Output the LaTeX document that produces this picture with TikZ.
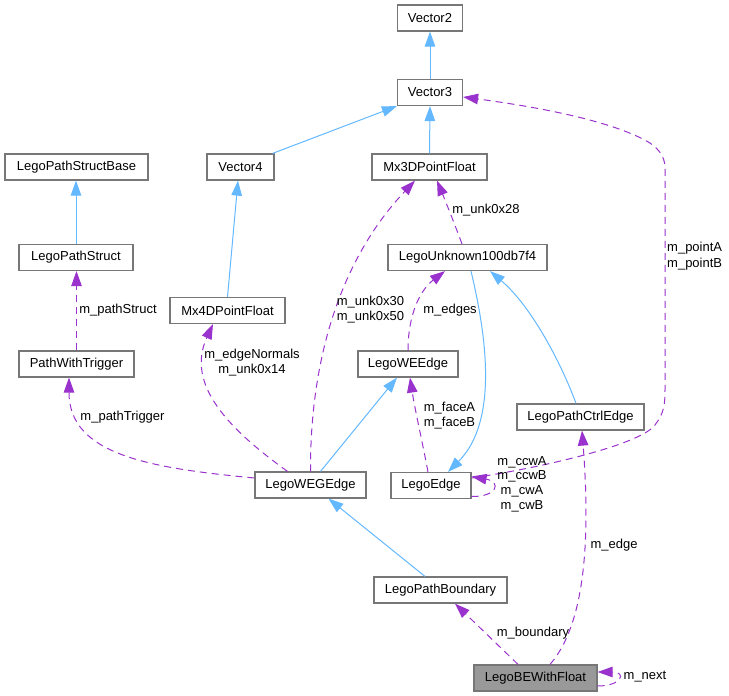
\documentclass[tikz,border=0pt]{standalone}
\usepackage{fontspec}
\setmainfont{Liberation Sans}
\usetikzlibrary{arrows.meta}
\definecolor{boxline}{HTML}{777777}
\definecolor{inh}{HTML}{63B8FF}
\definecolor{usage}{HTML}{9A32CD}
\definecolor{hl}{HTML}{999999}
\begin{document}
\begin{tikzpicture}[x=1pt,y=-1pt,
  cls/.style={draw=boxline, line width=1.2pt, rectangle, fill=white, minimum height=26pt, inner sep=0pt, font=\fontsize{13pt}{15pt}\selectfont},
  inhedge/.style={draw=inh, color=inh, line width=1pt, -{Triangle[length=15pt,width=10.5pt]}},
  useedge/.style={draw=usage, color=usage, line width=1pt, dash pattern=on 7pt off 5pt, -{Triangle[length=15pt,width=10.5pt]}},
  lbl/.style={font=\fontsize{13pt}{15pt}\selectfont, align=center, inner sep=0pt, text=black}]
\useasboundingbox (0,0) rectangle (729,696);
% classes
\node[cls, minimum width=65pt]  (v2)   at (430,18)    {Vector2};
\node[cls, minimum width=65pt]  (v3)   at (430,92.5)  {Vector3};
\node[cls, minimum width=67pt]  (v4)   at (240.5,167) {Vector4};
\node[cls, minimum width=115pt] (mx3)  at (429.5,167) {Mx3DPointFloat};
\node[cls, minimum width=143pt] (lpsb) at (76.5,167)  {LegoPathStructBase};
\node[cls, minimum width=114pt] (lps)  at (76,257.5)  {LegoPathStruct};
\node[cls, minimum width=115pt] (mx4)  at (227.5,310.5) {Mx4DPointFloat};
\node[cls, minimum width=159pt] (lu)   at (467.5,257.5) {LegoUnknown100db7f4};
\node[cls, minimum width=115pt] (pwt)  at (76.5,364)  {PathWithTrigger};
\node[cls, minimum width=100pt] (lwe)  at (408,364)   {LegoWEEdge};
\node[cls, minimum width=127pt] (lpce) at (580.5,417) {LegoPathCtrlEdge};
\node[cls, minimum width=80pt]  (le)   at (431,485.5) {LegoEdge};
\node[cls, minimum width=111pt] (lweg) at (310.5,485) {LegoWEGEdge};
\node[cls, minimum width=133pt] (lpb)  at (440.5,590) {LegoPathBoundary};
\node[cls, minimum width=123pt, fill=hl] (lbe) at (535.5,678) {LegoBEWithFloat};
% inheritance
\draw[inhedge] (v3.north) -- (v2.south);
\draw[inhedge] ([xshift=-2pt]v4.north east) -- (v3.south west);
\draw[inhedge] (mx3.north) -- (v3.south);
\draw[inhedge] (lps.north) -- (lps.north |- lpsb.south);
\draw[inhedge] (mx4.north) -- ([xshift=-2.5pt]v4.south);
\draw[inhedge] ([xshift=10pt]lweg.north) -- ([xshift=-11pt]lwe.south);
\draw[inhedge] ([xshift=3.5pt]lu.south) .. controls (485,330) and (500,420) .. ([xshift=17pt]le.north);
\draw[inhedge] ([xshift=-4.5pt]lpce.north) .. controls (560,360) and (530,305) .. ([xshift=22.5pt]lu.south);
\draw[inhedge] ([xshift=-15.5pt]lpb.north) -- ([xshift=18pt]lweg.south);
% usage
\draw[useedge] ([yshift=7pt]lweg.west) .. controls (150,468) and (69,455) .. ([xshift=-7.5pt]pwt.south);
\node[lbl] (tpt) at (122.5,417) {m\_pathTrigger};
\draw[useedge] (pwt.north) -- (pwt.north |- lps.south);
\node[lbl] (tps) at (118,310) {m\_pathStruct};
\draw[useedge] ([xshift=-23pt]lweg.north) .. controls (230,430) and (185,385) .. ([xshift=-14.5pt]mx4.south);
\node[lbl] (ten) at (252,363) {m\_edgeNormals\\m\_unk0x14};
\draw[useedge] (lweg.north) .. controls (310,360) and (340,260) .. ([xshift=-14.5pt]mx3.south);
\node[lbl] (t30) at (370.5,309.5) {m\_unk0x30\\m\_unk0x50};
\draw[useedge] ([xshift=-5.5pt]lu.north) .. controls (455,225) and (445,200) .. ([xshift=7.5pt]mx3.south);
\node[lbl] (t28) at (486,210) {m\_unk0x28};
\draw[useedge] (lwe.north) .. controls (408,315) and (420,290) .. ([xshift=-22.5pt]lu.south);
\node[lbl] (ted) at (450,310) {m\_edges};
\draw[useedge] ([xshift=-3pt]le.north) .. controls (422,440) and (415,410) .. ([xshift=2pt]lwe.south);
\node[lbl] (tfa) at (449.5,416) {m\_faceA\\m\_faceB};
\draw[useedge] ([yshift=7.5pt]le.east) .. controls (540,468) and (640,445) .. (655,425)
   .. controls (664,413) and (665,405) .. (665,390) -- (665,168)
   .. controls (665,158) and (660,150) .. (650,143)
   .. controls (620,125) and (560,110) .. ([yshift=-4.5pt]v3.east);
\node[lbl, align=left, anchor=west, font=\fontsize{13pt}{16pt}\selectfont] (tpa) at (667,256) {m\_pointA\\m\_pointB};
\draw[useedge] ([yshift=-11pt]le.east) .. controls (497,497) and (502,482) .. ([yshift=9pt]le.east);
\node[lbl, font=\fontsize{13pt}{14.7pt}\selectfont] (tcc) at (522,484) {m\_ccwA\\m\_ccwB\\m\_cwA\\m\_cwB};
\draw[useedge] ([xshift=14.5pt]lbe.north) .. controls (580,630) and (592,560) .. ([xshift=1.5pt]lpce.south);
\node[lbl] (tme) at (614,545) {m\_edge};
\draw[useedge] ([xshift=-17.5pt]lbe.north) -- ([xshift=14.5pt]lpb.south);
\node[lbl] (tbd) at (533,633) {m\_boundary};
\draw[useedge] ([yshift=-8pt]lbe.east) .. controls (622,686) and (627,672) .. ([yshift=6pt]lbe.east);
\node[lbl] (tnx) at (645,677) {m\_next};
\end{tikzpicture}
\end{document}
